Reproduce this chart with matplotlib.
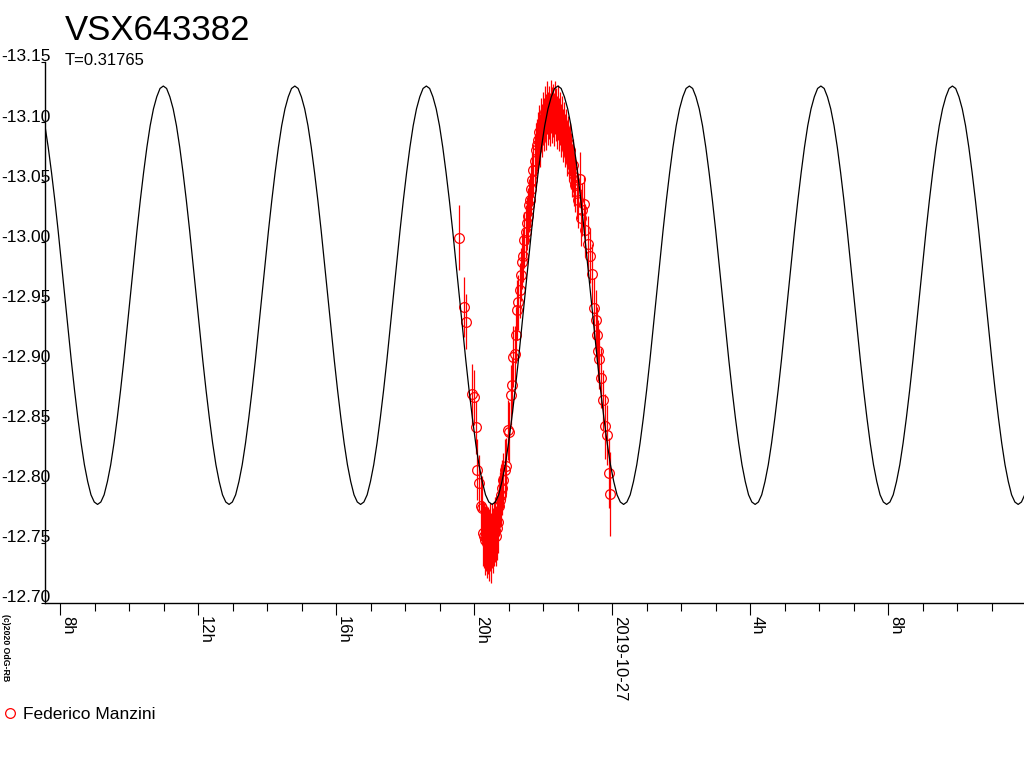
import numpy as np
import matplotlib
matplotlib.use('Agg')
import matplotlib.pyplot as plt
import matplotlib.transforms as mtrans
from matplotlib.lines import Line2D

plt.rcParams['font.family'] = ['Liberation Sans', 'DejaVu Sans']

# star / fit info
star_name = 'VSX643382'
period_days = 0.31765
observer = 'Federico Manzini'

# time in hours from 2019-10-26 00:00 UT
obs_time = [19.57, 19.71, 19.77, 19.94, 20.00, 20.06, 20.09, 20.14, 20.20, 20.23,
            20.26, 20.29, 20.32, 20.35, 20.38, 20.41, 20.43, 20.46, 20.49, 20.52,
            20.55, 20.58, 20.61, 20.64, 20.67, 20.70, 20.72, 20.75, 20.78, 20.81,
            20.84, 20.90, 20.93, 20.99, 21.01, 21.07, 21.10, 21.13, 21.19, 21.22,
            21.25, 21.28, 21.33, 21.36, 21.39, 21.42, 21.45, 21.51, 21.54, 21.57,
            21.59, 21.62, 21.65, 21.68, 21.71, 21.77, 21.80, 21.83, 21.86, 21.88,
            21.91, 21.94, 21.97, 22.00, 22.03, 22.06, 22.09, 22.12, 22.14, 22.17,
            22.20, 22.23, 22.26, 22.29, 22.32, 22.35, 22.38, 22.41, 22.43, 22.46,
            22.49, 22.52, 22.55, 22.58, 22.61, 22.64, 22.67, 22.70, 22.72, 22.75,
            22.78, 22.81, 22.84, 22.87, 22.90, 22.93, 22.99, 23.01, 23.07, 23.10,
            23.13, 23.19, 23.22, 23.30, 23.36, 23.42, 23.48, 23.54, 23.57, 23.59,
            23.62, 23.68, 23.74, 23.80, 23.86, 23.91, 23.94]
obs_mag = [-13.004, -12.946, -12.934, -12.874, -12.871, -12.846, -12.811, -12.800, -12.781, -12.779,
           -12.758, -12.756, -12.752, -12.754, -12.750, -12.752, -12.748, -12.755, -12.746, -12.756,
           -12.752, -12.758, -12.761, -12.756, -12.762, -12.767, -12.781, -12.786, -12.790, -12.796,
           -12.802, -12.811, -12.814, -12.844, -12.842, -12.873, -12.881, -12.905, -12.907, -12.923,
           -12.944, -12.950, -12.960, -12.973, -12.984, -12.989, -13.002, -13.009, -13.016, -13.022,
           -13.031, -13.035, -13.044, -13.052, -13.060, -13.068, -13.077, -13.081, -13.085, -13.092,
           -13.085, -13.098, -13.093, -13.103, -13.098, -13.108, -13.100, -13.112, -13.103, -13.108,
           -13.102, -13.113, -13.106, -13.110, -13.102, -13.112, -13.106, -13.100, -13.108, -13.098,
           -13.103, -13.093, -13.100, -13.089, -13.095, -13.085, -13.089, -13.078, -13.083, -13.073,
           -13.077, -13.067, -13.060, -13.064, -13.052, -13.048, -13.041, -13.035, -13.053, -13.020,
           -13.027, -13.032, -13.010, -12.999, -12.989, -12.974, -12.945, -12.935, -12.923, -12.910,
           -12.903, -12.887, -12.869, -12.847, -12.840, -12.808, -12.791]
obs_err = [0.027, 0.025, 0.023, 0.025, 0.023, 0.022, 0.025, 0.023, 0.025, 0.027,
           0.027, 0.027, 0.029, 0.027, 0.029, 0.028, 0.030, 0.028, 0.029, 0.027,
           0.027, 0.027, 0.027, 0.025, 0.026, 0.025, 0.025, 0.023, 0.025, 0.023,
           0.023, 0.025, 0.023, 0.025, 0.025, 0.025, 0.023, 0.025, 0.023, 0.023,
           0.025, 0.023, 0.023, 0.022, 0.023, 0.022, 0.023, 0.022, 0.022, 0.023,
           0.022, 0.022, 0.022, 0.022, 0.022, 0.022, 0.022, 0.022, 0.023, 0.022,
           0.022, 0.022, 0.022, 0.022, 0.022, 0.022, 0.023, 0.022, 0.022, 0.022,
           0.022, 0.022, 0.023, 0.022, 0.022, 0.022, 0.022, 0.022, 0.023, 0.022,
           0.022, 0.022, 0.022, 0.022, 0.022, 0.022, 0.022, 0.023, 0.022, 0.022,
           0.022, 0.023, 0.022, 0.022, 0.022, 0.023, 0.022, 0.023, 0.022, 0.023,
           0.022, 0.023, 0.022, 0.023, 0.023, 0.025, 0.025, 0.025, 0.023, 0.025,
           0.025, 0.025, 0.025, 0.027, 0.025, 0.029, 0.035]

# model light curve: EW type, two equal minima per period -> template over half period
# (magnitudes read off one drawn cycle, starting at a minimum)
min_epoch = 12.90          # hours, a minimum on 2019-10-26
template_mag = [-12.782, -12.784, -12.790, -12.801, -12.815, -12.833, -12.854, -12.877, -12.902, -12.929,
                -12.956, -12.983, -13.010, -13.035, -13.058, -13.079, -13.097, -13.111, -13.121, -13.128,
                -13.130, -13.128, -13.121, -13.111, -13.097, -13.079, -13.058, -13.035, -13.010, -12.983,
                -12.956, -12.929, -12.902, -12.877, -12.854, -12.833, -12.815, -12.801, -12.790, -12.784]

# axis ticks
tick_hours = [8, 12, 16, 20, 24, 28, 32]
tick_labels = ['8h', '12h', '16h', '20h', '2019-10-27', '4h', '8h']
mag_ticks = [-13.15, -13.10, -13.05, -13.00, -12.95, -12.90, -12.85, -12.80, -12.75, -12.70]

# ------------------------------------------------------------
fig = plt.figure(figsize=(10.24, 7.68), dpi=100)
W, H = 1024, 768
ax = fig.add_axes([45 / W, 1 - 603 / H, 979 / W, 541 / H])

half_p = period_days * 24 / 2
ph = np.arange(len(template_mag)) / len(template_mag)
cyc = np.arange(-2, 8)
t_model = (min_epoch + (cyc[:, None] + ph[None, :]) * half_p).ravel()
m_model = np.tile(template_mag, len(cyc))

ax.errorbar(obs_time, obs_mag, yerr=obs_err, fmt='o', ms=7, mfc='none', mec='red',
            mew=0.9, ecolor='red', elinewidth=0.9, capsize=0, zorder=2)
ax.plot(t_model, m_model, color='black', lw=0.9, zorder=3)

ax.set_xlim(7.565, 35.94)
ax.set_ylim(-12.70, -13.15)

for s in ['top', 'right']:
    ax.spines[s].set_visible(False)
ax.spines['left'].set_linewidth(1.0)
ax.spines['bottom'].set_linewidth(1.0)

ax.set_xticks(tick_hours)
ax.set_xticks(range(8, 36), minor=True)
ax.set_xticklabels(tick_labels, rotation=-90, ha='left', va='top', fontsize=12)
ax.tick_params(axis='x', which='major', length=8.5, width=0.8, pad=1)
ax.tick_params(axis='x', which='minor', length=5.8, width=0.8)

ax.set_yticks(mag_ticks)
ax.set_yticklabels([])
ax.tick_params(axis='y', length=3, width=0.8)

# y labels sit just above their tick and run over the spine
tr = mtrans.blended_transform_factory(fig.transFigure, ax.transData)
tr = mtrans.offset_copy(tr, fig=fig, y=5, units='dots')
for m in mag_ticks:
    fig.text(1 / W, m, '%.2f' % m, transform=tr, ha='left', va='center', fontsize=12.5)

fig.text(65 / W, 1 - 40 / H, star_name, fontsize=25, va='baseline')
fig.text(65 / W, 1 - 65 / H, 'T=%.5f' % period_days, fontsize=12, va='baseline')
fig.text(5 / W, 1 - 614 / H, '(c)2020 OdG-RB', rotation=-90, fontsize=6.3,
         fontweight='bold', ha='center', va='top')

h = Line2D([], [], marker='o', ls='none', mfc='none', mec='red', ms=7, mew=0.9)
fig.legend(handles=[h], labels=[observer], loc='center left', bbox_to_anchor=(0, 1 - 714 / H),
           frameon=False, fontsize=12.5, handlelength=1.0, handletextpad=0.2,
           borderpad=0.1, borderaxespad=0)

fig.savefig('out.png', dpi=100)
